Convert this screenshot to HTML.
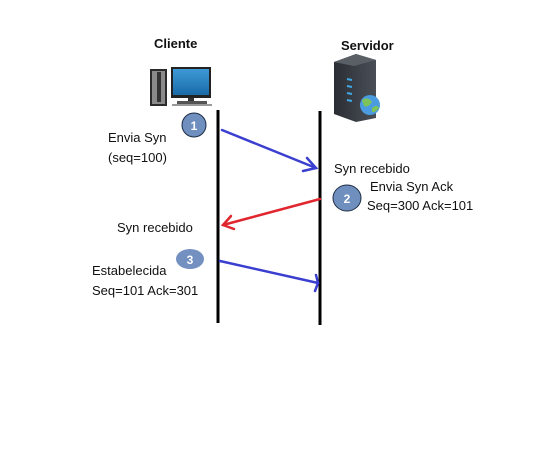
<!DOCTYPE html>
<html><head><style>
html,body{margin:0;padding:0;background:#fff;}
svg{display:block;font-family:"Liberation Sans",sans-serif;}
</style></head><body>
<svg width="535" height="453" viewBox="0 0 535 453">
<defs>
<linearGradient id="scr" x1="0" y1="0" x2="0" y2="1"><stop offset="0" stop-color="#3d9ad6"/><stop offset="1" stop-color="#1a6aa8"/></linearGradient>
<linearGradient id="srv" x1="0" y1="0" x2="1" y2="0"><stop offset="0" stop-color="#2a2d33"/><stop offset="1" stop-color="#4a4f57"/></linearGradient>
</defs>
<text x="154" y="48" font-size="13" font-weight="bold" fill="#111">Cliente</text>
<text x="341" y="50" font-size="13" font-weight="bold" fill="#111">Servidor</text>
<!-- computer -->
<rect x="150" y="69" width="17" height="37" fill="#2b2b2b"/>
<rect x="152" y="71" width="13" height="33" fill="#8a8a8a"/>
<rect x="157" y="72" width="4" height="30" fill="#333"/>
<rect x="171" y="67" width="40" height="31" fill="#222"/>
<rect x="173" y="69" width="36" height="26" fill="url(#scr)"/>
<rect x="188" y="98" width="6" height="3" fill="#333"/>
<rect x="177" y="101" width="30" height="3" fill="#555"/>
<rect x="172" y="104" width="40" height="2" fill="#999"/>
<!-- server -->
<path d="M334 62 L356 54 L376 60 L376 118 L356 122 L334 114 Z" fill="url(#srv)"/>
<path d="M334 62 L356 54 L376 60 L354 66 Z" fill="#5a5f66"/>
<g stroke="#3fa9e6" stroke-width="2"><line x1="347" y1="79" x2="352" y2="80"/><line x1="347" y1="86" x2="352" y2="87"/><line x1="347" y1="93" x2="352" y2="94"/><line x1="347" y1="100" x2="352" y2="101"/></g>
<circle cx="370" cy="105" r="10" fill="#4a9be0"/>
<path d="M362 100 Q368 96 372 102 Q368 108 364 106 Z M372 108 Q377 104 379 108 Q375 113 372 112 Z" fill="#7cc45a"/>
<!-- lifelines -->
<line x1="218" y1="110" x2="218" y2="323" stroke="#000" stroke-width="3"/>
<line x1="320" y1="111" x2="320" y2="325" stroke="#000" stroke-width="3"/>
<!-- arrows -->
<g fill="none" stroke-width="2.5" stroke-linecap="round">
<path d="M222 130 L316 168" stroke="#3b3fd0"/>
<path d="M307 158 L316 168 L303 171" stroke="#3b3fd0"/>
<path d="M320 199 L223 225" stroke="#e0262e"/>
<path d="M231 216 L223 225 L234 229" stroke="#e0262e"/>
<path d="M220 261 L318 283" stroke="#3b3fd0"/>
<path d="M316 275 L318 283 L315 291" stroke="#3b3fd0"/>
</g>
<!-- circles -->
<circle cx="194" cy="125" r="12" fill="#6f8fbf" stroke="#1e2c44" stroke-width="1"/>
<text x="194" y="130" font-size="12" font-weight="bold" fill="#fff" text-anchor="middle">1</text>
<ellipse cx="347" cy="198" rx="14" ry="13" fill="#6f8fbf" stroke="#1e2c44" stroke-width="1"/>
<text x="347" y="203" font-size="12" font-weight="bold" fill="#fff" text-anchor="middle">2</text>
<ellipse cx="190" cy="259" rx="14" ry="10" fill="#7390c0"/>
<text x="190" y="264" font-size="12" font-weight="bold" fill="#fff" text-anchor="middle">3</text>
<!-- labels -->
<g font-size="13" fill="#111">
<text x="108" y="142">Envia Syn</text>
<text x="108" y="162">(seq=100)</text>
<text x="334" y="173">Syn recebido</text>
<text x="370" y="191">Envia Syn Ack</text>
<text x="367" y="210">Seq=300 Ack=101</text>
<text x="117" y="232">Syn recebido</text>
<text x="92" y="275">Estabelecida</text>
<text x="92" y="295">Seq=101 Ack=301</text>
</g>
</svg>
</body></html>
